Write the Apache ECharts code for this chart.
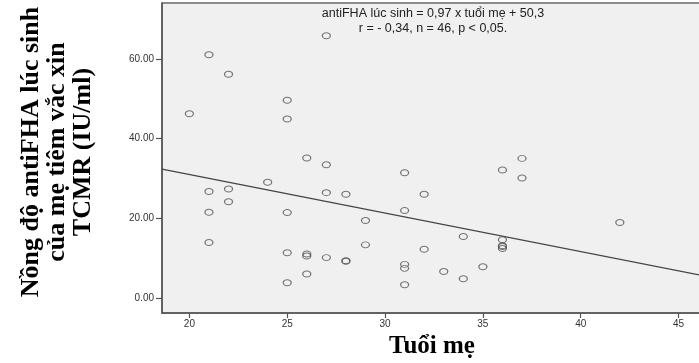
<!DOCTYPE html>
<html><head><meta charset="utf-8">
<script src="https://cdn.jsdelivr.net/npm/echarts@6/dist/echarts.min.js"></script>
<style>html,body{margin:0;padding:0;background:#fff}#c{width:699px;height:363px}</style>
</head><body><div id="c"></div>
<script>
// Maternal age (x) and antiFHA at birth (y)
const ages = [27,21,22,20,25,25,26,27,24,21,22,22,27,28,21,25,21,25,26,26,27,28,28,26,25,
              37,36,37,31,32,29,31,42,34,36,36,36,36,29,32,31,31,35,33,34,31];
const values = [65.8,61.0,56.1,46.2,49.6,44.9,35.1,33.4,29.0,26.7,27.3,24.1,26.4,26.0,21.5,21.4,13.9,11.3,11.0,10.5,10.1,9.3,9.2,6.0,3.8,
                35.0,32.1,30.1,31.4,26.0,19.4,21.9,18.9,15.4,14.6,13.1,12.9,12.4,13.3,12.2,8.4,7.4,7.8,6.6,4.8,3.3];
// Fit line end points
const fitX = [18.6, 46.1];
const fitY = [32.3, 5.7];
const xTicks = [20,25,30,35,40,45];
const yTicks = [0,20,40,60];
const eqLine1 = 'antiFHA lúc sinh = 0,97 x tuổi mẹ + 50,3';
const eqLine2 = 'r = - 0,34, n = 46, p < 0,05.';
const xTitle = 'Tuổi mẹ';
const yTitle = 'Nồng độ antiFHA lúc sinh\ncủa mẹ tiêm vắc xin\nTCMR (IU/ml)';

const pts = ages.map((a,i)=>[a, values[i]]);
const fit = fitX.map((x,i)=>[x, fitY[i]]);

const chart = echarts.init(document.getElementById('c'), null, {renderer:'canvas'});
chart.setOption({
  animation:false,
  backgroundColor:'#ffffff',
  grid:{left:162, top:3, right:-3, bottom:50, outerBoundsMode:'none', containLabel:false,
        show:true, backgroundColor:'#f0f0f0', borderColor:'#6a6a6a', borderWidth:1.5},
  xAxis:{
    type:'value', min:18.6, max:46.2,
    name:xTitle, nameLocation:'middle', nameGap:21,
    nameTextStyle:{fontFamily:'Liberation Serif', fontWeight:'bold', fontSize:25, color:'#000'},
    axisLine:{show:true, onZero:false, lineStyle:{color:'#555', width:1.5}},
    axisTick:{show:true, length:5, customValues:xTicks, lineStyle:{color:'#555', width:1.2}},
    axisLabel:{customValues:xTicks, fontFamily:'Liberation Sans', fontSize:10, color:'#333', margin:6},
    splitLine:{show:false}
  },
  yAxis:{
    type:'value', min:-3.8, max:74,
    axisLine:{show:true, onZero:false, lineStyle:{color:'#555', width:1.5}},
    axisTick:{show:true, length:6, customValues:yTicks, lineStyle:{color:'#555', width:1.2}},
    axisLabel:{customValues:yTicks, formatter:v=>v.toFixed(2), fontFamily:'Liberation Sans', fontSize:10, color:'#333', margin:8},
    splitLine:{show:false}
  },
  graphic:[
    {type:'text', x:57, y:152, rotation:Math.PI/2,
     style:{text:yTitle, font:'bold 26px "Liberation Serif"', align:'center', verticalAlign:'middle', lineHeight:26, fill:'#000'}},
    {type:'text', x:433, y:14, style:{text:eqLine1, font:'12.5px "Liberation Sans"', align:'center', verticalAlign:'middle', fill:'#222'}},
    {type:'text', x:433, y:29, style:{text:eqLine2, font:'12.5px "Liberation Sans"', align:'center', verticalAlign:'middle', fill:'#222'}}
  ],
  series:[
    {type:'scatter', data:pts, symbol:'circle', symbolSize:[8,6],
     itemStyle:{color:'rgba(0,0,0,0)', borderColor:'#555', borderWidth:1.1}, z:3},
    {type:'line', data:fit, showSymbol:false, symbol:'none', lineStyle:{color:'#444', width:1.2}, z:2}
  ]
});
</script></body></html>
